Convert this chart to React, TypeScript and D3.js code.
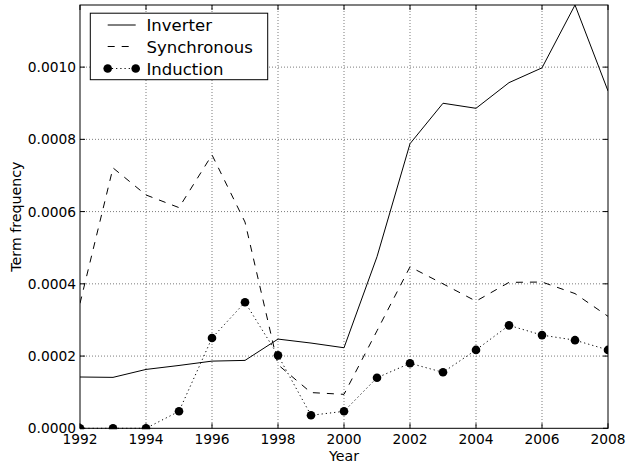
import React from "react";
import * as d3 from "d3";

const years = [1992, 1993, 1994, 1995, 1996, 1997, 1998, 1999, 2000, 2001, 2002, 2003, 2004, 2005, 2006, 2007, 2008];
const inverter = [0.000142, 0.000141, 0.000163, 0.000174, 0.000186, 0.000188, 0.000247, 0.000236, 0.000223, 0.000475, 0.000788, 0.0009, 0.000886, 0.000957, 0.000998, 0.001172, 0.000934];
const synchronous = [0.000346, 0.000721, 0.000646, 0.000611, 0.000757, 0.000571, 0.000176, 0.0000989, 0.000094, 0.00027, 0.000447, 0.0004, 0.000352, 0.000404, 0.000405, 0.000373, 0.00031];
const induction = [0, 0, 0, 0.000047, 0.00025, 0.000349, 0.000202, 0.000036, 0.000047, 0.00014, 0.00018, 0.000155, 0.000217, 0.000285, 0.000258, 0.000244, 0.000217];
const xTicks = [1992, 1994, 1996, 1998, 2000, 2002, 2004, 2006, 2008];
const yTicks = [0, 0.0002, 0.0004, 0.0006, 0.0008, 0.001];
const legendLabels = ["Inverter", "Synchronous", "Induction"];

const W = 628, H = 466;
const L = 80, R = 608, T = 5, B = 428.3;
const FONT = "'DejaVu Sans', sans-serif";
const FS = 13.8;
const AFS = 14.2;
const LFS = 16.5;
const DASH = "7,7";
const DOT = "1.2,3";

export default function App() {
  const x = d3.scaleLinear().domain([1992, 2008]).range([L, R]);
  const y = d3.scaleLinear().domain([0, 0.001172]).range([B, T]);
  const line = d3.line<number>().x((_, i) => x(years[i])).y((d) => y(d));

  const tick = 5;
  const rows = [25, 46.5, 68.5];
  return (
    <svg width={W} height={H} style={{ position: "absolute", left: 0, top: 0, background: "#fff" }} fontFamily={FONT}>
      <rect x={0} y={0} width={W} height={H} fill="#fff" />
      <defs>
        <clipPath id="plot">
          <rect x={L} y={T - 1} width={R - L} height={B - T + 2} />
        </clipPath>
      </defs>
      {/* grid */}
      <g stroke="#444" strokeWidth={0.7} strokeDasharray="1,2">
        {xTicks.slice(1, -1).map((t) => (
          <line key={"gx" + t} x1={x(t)} x2={x(t)} y1={T} y2={B} />
        ))}
        {yTicks.slice(1).map((t) => (
          <line key={"gy" + t} x1={L} x2={R} y1={y(t)} y2={y(t)} />
        ))}
      </g>
      {/* series */}
      <g clipPath="url(#plot)" fill="none" stroke="#000" strokeWidth={1}>
        <path d={line(inverter) || ""} />
        <path d={line(synchronous) || ""} strokeDasharray={DASH} />
        <path d={line(induction) || ""} strokeDasharray={DOT} />
        {induction.map((v, i) => (
          <circle key={i} cx={x(years[i])} cy={y(v)} r={4.3} fill="#000" stroke="none" />
        ))}
      </g>
      {/* ticks */}
      <g stroke="#000" strokeWidth={1}>
        {xTicks.map((t) => (
          <g key={"tx" + t}>
            <line x1={x(t)} x2={x(t)} y1={B} y2={B - tick} />
            <line x1={x(t)} x2={x(t)} y1={T} y2={T + tick} />
          </g>
        ))}
        {yTicks.map((t) => (
          <g key={"ty" + t}>
            <line x1={L} x2={L + tick} y1={y(t)} y2={y(t)} />
            <line x1={R} x2={R - tick} y1={y(t)} y2={y(t)} />
          </g>
        ))}
      </g>
      <rect x={L} y={T} width={R - L} height={B - T} fill="none" stroke="#000" strokeWidth={1} />
      {/* tick labels */}
      <g fontSize={FS} fill="#000">
        {xTicks.map((t) => (
          <text key={"lx" + t} x={x(t)} y={B + 16} textAnchor="middle">{t}</text>
        ))}
        {yTicks.map((t) => (
          <text key={"ly" + t} x={L - 4} y={y(t) + 5} textAnchor="end">{t.toFixed(4)}</text>
        ))}
      </g>
      <g fontSize={AFS} fill="#000">
        <text x={(L + R) / 2} y={461} textAnchor="middle">Year</text>
        <text transform={`translate(20.5,${(T + B) / 2}) rotate(-90)`} textAnchor="middle">Term frequency</text>
      </g>
      {/* legend */}
      <g>
        <rect x={90.3} y={13.2} width={177.4} height={66.5} fill="#fff" stroke="#000" strokeWidth={1} />
        {legendLabels.map((lab, i) => {
          const yy = rows[i];
          return (
            <g key={lab}>
              <line x1={107.7} x2={135.7} y1={yy} y2={yy} stroke="#000" strokeWidth={1}
                strokeDasharray={i === 1 ? DASH : i === 2 ? DOT : undefined} />
              {i === 2 && (
                <>
                  <circle cx={107.7} cy={yy} r={4.3} fill="#000" />
                  <circle cx={135.7} cy={yy} r={4.3} fill="#000" />
                </>
              )}
              <text x={146.5} y={yy + 6.2} fontSize={LFS} fill="#000">{lab}</text>
            </g>
          );
        })}
      </g>
    </svg>
  );
}
